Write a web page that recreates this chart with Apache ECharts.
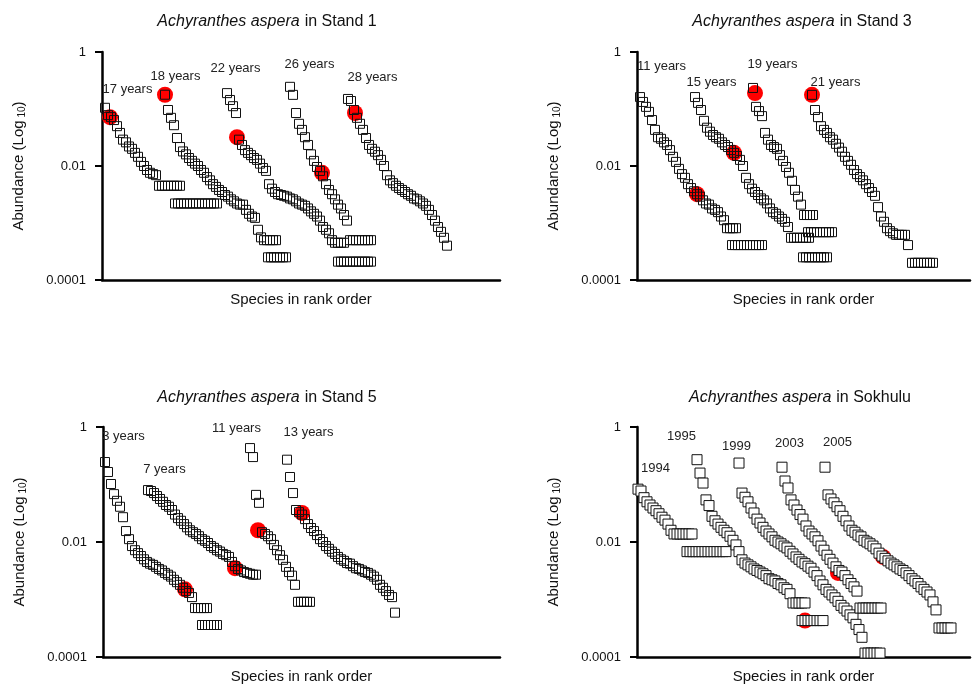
<!DOCTYPE html>
<html>
<head>
<meta charset="utf-8">
<title>Achyranthes aspera rank abundance</title>
<script src="https://cdn.jsdelivr.net/npm/echarts@6/dist/echarts.min.js"></script>
<style>
  html, body { margin: 0; padding: 0; background: #fff; }
  #chart { width: 974px; height: 687px; }
</style>
</head>
<body>
<div id="chart"></div>
<script>
// abundance (proportion) of each species in rank order
// Stand 1
const s1_17y = [0.105, 0.078, 0.072, 0.064, 0.050, 0.038, 0.029, 0.026, 0.022, 0.020, 0.017, 0.0145, 0.0118, 0.010, 0.0085, 0.0076, 0.0072, 0.0069, 0.0045, 0.0045, 0.0045, 0.0045, 0.0045, 0.0045, 0.0045, 0.0045];
const s1_17y_tail = [0.0022, 0.0022, 0.0022, 0.0022, 0.0022, 0.0022, 0.0022, 0.0022, 0.0022, 0.0022, 0.0022, 0.0022, 0.0022, 0.0022, 0.0022];
const s1_18y = [0.178, 0.096, 0.070, 0.052, 0.031, 0.0215, 0.018, 0.016, 0.0138, 0.0123, 0.011, 0.010, 0.0085, 0.0076, 0.0064, 0.0056, 0.0048, 0.0043, 0.0038, 0.0035, 0.0031, 0.0029, 0.0026, 0.0024, 0.0022, 0.0021, 0.0021, 0.0017, 0.00145, 0.0013, 0.00123, 0.00076, 0.00056, 0.0005, 0.0005, 0.0005, 0.0005, 0.0005];
const s1_18y_tail = [0.00025, 0.00025, 0.00025, 0.00025, 0.00025, 0.00025, 0.00025];
const s1_22y = [0.19, 0.144, 0.112, 0.085, 0.029, 0.0234, 0.019, 0.017, 0.0155, 0.0138, 0.0128, 0.011, 0.0092, 0.0082, 0.0048, 0.004, 0.0035, 0.0032, 0.0031, 0.003, 0.0029, 0.0027, 0.0026, 0.0024, 0.0022, 0.0021, 0.002, 0.0018, 0.0016, 0.00145, 0.0013, 0.0011, 0.00085, 0.00076, 0.00066, 0.0005, 0.00045, 0.00045, 0.00045, 0.00045];
const s1_26y = [0.245, 0.177, 0.085, 0.055, 0.043, 0.032, 0.0234, 0.016, 0.0123, 0.0096, 0.0082, 0.0066, 0.0048, 0.0038, 0.0032, 0.0026, 0.0021, 0.0018, 0.00138, 0.0011, 0.0005, 0.0005, 0.0005, 0.0005, 0.0005, 0.0005, 0.0005, 0.0005];
const s1_26y_tail = [0.00021, 0.00021, 0.00021, 0.00021, 0.00021, 0.00021, 0.00021, 0.00021, 0.00021, 0.00021, 0.00021, 0.00021];
const s1_28y = [0.15, 0.138, 0.096, 0.07, 0.055, 0.043, 0.031, 0.0234, 0.02, 0.0178, 0.0155, 0.0128, 0.01, 0.0069, 0.0056, 0.005, 0.0045, 0.0041, 0.0038, 0.0035, 0.0032, 0.003, 0.0027, 0.0026, 0.0024, 0.0022, 0.002, 0.0017, 0.00138, 0.0011, 0.00085, 0.0007, 0.00055, 0.0004];
const s1RedRank = [8, 63, 135, 220, 253];
const s1RedValue = [0.072, 0.178, 0.032, 0.0076, 0.085];

// Stand 3
const s3_11y = [0.162, 0.133, 0.109, 0.089, 0.064, 0.043, 0.032, 0.03, 0.026, 0.0234, 0.019, 0.0145, 0.0118, 0.0089, 0.0072, 0.0062, 0.0048, 0.0041, 0.0036, 0.0032, 0.0029, 0.0025, 0.0022, 0.0021, 0.0018, 0.0017, 0.00155, 0.0013, 0.00112, 0.00081, 0.00081, 0.00081, 0.00081];
const s3_11y_tail = [0.00041, 0.00041, 0.00041, 0.00041, 0.00041, 0.00041, 0.00041, 0.00041, 0.00041, 0.00041, 0.00041];
const s3_15y = [0.162, 0.128, 0.096, 0.062, 0.047, 0.04, 0.035, 0.032, 0.03, 0.026, 0.0234, 0.0215, 0.019, 0.017, 0.015, 0.0128, 0.01, 0.0062, 0.0048, 0.004, 0.0035, 0.0031, 0.0027, 0.0025, 0.0022, 0.0018, 0.00155, 0.00145, 0.0013, 0.00118, 0.00105, 0.00085, 0.00055, 0.00055, 0.00055, 0.00055, 0.00055, 0.00055, 0.00055];
const s3_19y = [0.234, 0.109, 0.092, 0.075, 0.038, 0.029, 0.0234, 0.0215, 0.02, 0.0155, 0.0123, 0.0096, 0.0076, 0.0055, 0.0038, 0.0029, 0.0021, 0.00138, 0.00138, 0.00138, 0.00138];
const s3_19y_tail = [0.00069, 0.00069, 0.00069, 0.00069, 0.00069, 0.00069, 0.00069, 0.00069, 0.00069];
const s3_19y_tail2 = [0.00025, 0.00025, 0.00025, 0.00025, 0.00025, 0.00025, 0.00025, 0.00025, 0.00025];
const s3_21y = [0.177, 0.096, 0.072, 0.05, 0.043, 0.038, 0.032, 0.029, 0.0245, 0.021, 0.0178, 0.0145, 0.0123, 0.0105, 0.0085, 0.0072, 0.0064, 0.0056, 0.0048, 0.0041, 0.0035, 0.003, 0.0019, 0.0013, 0.00105, 0.00081, 0.00072, 0.00066, 0.00062, 0.00062, 0.00062, 0.00062, 0.00041];
const s3_21y_tail = [0.0002, 0.0002, 0.0002, 0.0002, 0.0002, 0.0002, 0.0002, 0.0002];
const s3RedRank = [60, 97, 118, 175];
const s3RedValue = [0.0032, 0.017, 0.19, 0.177];

// Stand 5
const s5_3y = [0.246, 0.165, 0.102, 0.068, 0.052, 0.041, 0.027, 0.0155, 0.0112, 0.0085, 0.0072, 0.0064, 0.0057, 0.005, 0.0045, 0.0042, 0.004, 0.0037, 0.0034, 0.0032, 0.0029, 0.0027, 0.0025, 0.0022, 0.002, 0.0018, 0.0016, 0.0014, 0.0013, 0.0011, 0.00071, 0.00071, 0.00071, 0.00071, 0.00071];
const s5_3y_tail = [0.00036, 0.00036, 0.00036, 0.00036, 0.00036, 0.00036];
const s5_7y = [0.08, 0.077, 0.071, 0.063, 0.056, 0.05, 0.044, 0.041, 0.036, 0.03, 0.026, 0.0234, 0.0205, 0.018, 0.016, 0.0148, 0.0138, 0.0126, 0.0112, 0.0105, 0.0096, 0.0085, 0.0079, 0.0072, 0.0068, 0.0062, 0.0059, 0.0055, 0.0045, 0.0038, 0.0034, 0.0032, 0.003, 0.0029, 0.0028, 0.0027, 0.0027];
const s5_11y = [0.43, 0.30, 0.066, 0.048, 0.0148, 0.0138, 0.0126, 0.0112, 0.0089, 0.0072, 0.0059, 0.0049, 0.0037, 0.003, 0.0026, 0.0018, 0.00091, 0.00091, 0.00091, 0.00091, 0.00091];
const s5_13y = [0.27, 0.135, 0.071, 0.036, 0.033, 0.03, 0.025, 0.0205, 0.0175, 0.0155, 0.0132, 0.0112, 0.01, 0.0085, 0.0076, 0.0068, 0.0062, 0.0055, 0.005, 0.0047, 0.0043, 0.0042, 0.0038, 0.0035, 0.0034, 0.0032, 0.003, 0.0029, 0.0027, 0.0025, 0.0022, 0.0018, 0.0016, 0.0014, 0.0012, 0.0011, 0.00059];
const s5RedRank = [82, 132, 155, 199];
const s5RedValue = [0.0015, 0.0035, 0.016, 0.032];

// Sokhulu
const sk_1994 = [0.083, 0.077, 0.059, 0.05, 0.044, 0.039, 0.035, 0.031, 0.027, 0.024, 0.0205, 0.016, 0.0138, 0.0138, 0.0138, 0.0138, 0.0138, 0.0138, 0.0138];
const sk_1994_tail = [0.0068, 0.0068, 0.0068, 0.0068, 0.0068, 0.0068, 0.0068, 0.0068, 0.0068, 0.0068, 0.0068, 0.0068, 0.0068, 0.0068];
const sk_1995 = [0.27, 0.158, 0.106, 0.054, 0.043, 0.028, 0.0234, 0.0205, 0.018, 0.016, 0.0145, 0.0126, 0.0107, 0.0089, 0.0068, 0.0049, 0.0043, 0.004, 0.0037, 0.0034, 0.0032, 0.003, 0.0028, 0.0026, 0.0023, 0.0022, 0.0021, 0.0019, 0.0018, 0.0016, 0.0015, 0.00126, 0.00087, 0.00087, 0.00087, 0.00087, 0.00087];
const sk_1995_tail = [0.00043, 0.00043, 0.00043, 0.00043, 0.00043, 0.00043, 0.00043, 0.00043];
const sk_1999 = [0.236, 0.071, 0.06, 0.05, 0.039, 0.032, 0.025, 0.0214, 0.018, 0.0155, 0.0138, 0.0123, 0.0107, 0.01, 0.0093, 0.0085, 0.0079, 0.0069, 0.0062, 0.0055, 0.005, 0.0045, 0.0042, 0.0038, 0.0035, 0.003, 0.0026, 0.0021, 0.0018, 0.0015, 0.00135, 0.0012, 0.00107, 0.00093, 0.00079, 0.00071, 0.00063, 0.00054, 0.00048, 0.00037, 0.0003, 0.00022, 0.000117, 0.000117, 0.000117, 0.000117, 0.000117, 0.000117];
const sk_2003 = [0.2, 0.115, 0.087, 0.054, 0.044, 0.036, 0.03, 0.025, 0.019, 0.0155, 0.0138, 0.0123, 0.0105, 0.0085, 0.0072, 0.0059, 0.005, 0.0043, 0.0037, 0.0032, 0.003, 0.0026, 0.0022, 0.0019, 0.00166, 0.0014, 0.00071, 0.00071, 0.00071, 0.00071, 0.00071, 0.00071, 0.00071, 0.00071];
const sk_2005 = [0.2, 0.066, 0.056, 0.048, 0.041, 0.035, 0.028, 0.0234, 0.019, 0.016, 0.0148, 0.0132, 0.0123, 0.0107, 0.01, 0.0093, 0.0085, 0.0076, 0.0064, 0.0057, 0.0052, 0.0047, 0.0043, 0.004, 0.0037, 0.0034, 0.0032, 0.0029, 0.0026, 0.0023, 0.0021, 0.0019, 0.00166, 0.0015, 0.00135, 0.0012, 0.00091, 0.00066, 0.00032, 0.00032, 0.00032, 0.00032, 0.00032];
const skRedRank = [168, 201, 246];
const skRedValue = [0.00043, 0.0029, 0.0055];

const yTicks = ['1', '0.01', '0.0001'];

// layout: where each run starts along the rank axis, spacing, label offset
const panels = [
    {
        place: 'Stand 1', titleX: 262, titleY: 8, fill: 'rgba(255,255,255,0)', size: 9,
        grid: {left: 102, top: 52, width: 398, height: 228},
        runs: [
            {values: s1_17y, start: 3, step: 3, label: '17 years', offset: [23, -18]},
            {values: s1_17y_tail, start: 73, step: 3},
            {values: s1_18y, start: 63, step: 3, label: '18 years', offset: [11, -18]},
            {values: s1_18y_tail, start: 166, step: 3},
            {values: s1_22y, start: 125, step: 3, label: '22 years', offset: [9, -24]},
            {values: s1_26y, start: 188, step: 3, label: '26 years', offset: [20, -22]},
            {values: s1_26y_tail, start: 236, step: 3},
            {values: s1_28y, start: 246, step: 3, label: '28 years', offset: [25, -21]}
        ],
        redRank: s1RedRank, redValue: s1RedValue
    },
    {
        place: 'Stand 3', titleX: 797, titleY: 8, fill: 'rgba(255,255,255,0)', size: 9,
        grid: {left: 637, top: 52, width: 333, height: 228},
        runs: [
            {values: s3_11y, start: 3, step: 3, label: '11 years', offset: [22, -30]},
            {values: s3_11y_tail, start: 95, step: 3},
            {values: s3_15y, start: 58, step: 3, label: '15 years', offset: [17, -14]},
            {values: s3_19y, start: 116, step: 3, label: '19 years', offset: [20, -23]},
            {values: s3_19y_tail, start: 171, step: 3},
            {values: s3_19y_tail2, start: 166, step: 3},
            {values: s3_21y, start: 175, step: 3, label: '21 years', offset: [24, -12]},
            {values: s3_21y_tail, start: 275, step: 3}
        ],
        redRank: s3RedRank, redValue: s3RedValue
    },
    {
        place: 'Stand 5', titleX: 262, titleY: 384, fill: 'rgba(255,255,255,0)', size: 9,
        grid: {left: 103, top: 427, width: 397, height: 230},
        runs: [
            {values: s5_3y, start: 2, step: 3, label: '3 years', offset: [19, -25]},
            {values: s5_3y_tail, start: 99, step: 3},
            {values: s5_7y, start: 45, step: 3, label: '7 years', offset: [17, -20]},
            {values: s5_11y, start: 147, step: 3, label: '11 years', offset: [-13, -19]},
            {values: s5_13y, start: 184, step: 3, label: '13 years', offset: [22, -27]}
        ],
        redRank: s5RedRank, redValue: s5RedValue
    },
    {
        place: 'Sokhulu', titleX: 795, titleY: 384, fill: '#fff', size: 10,
        grid: {left: 637, top: 427, width: 333, height: 230},
        runs: [
            {values: sk_1994, start: 1, step: 3, label: '1994', offset: [18, -20]},
            {values: sk_1994_tail, start: 50, step: 3},
            {values: sk_1995, start: 60, step: 3, label: '1995', offset: [-15, -23]},
            {values: sk_1995_tail, start: 165, step: 3},
            {values: sk_1999, start: 102, step: 3, label: '1999', offset: [-2, -16]},
            {values: sk_2003, start: 145, step: 3, label: '2003', offset: [8, -23]},
            {values: sk_2005, start: 188, step: 3, label: '2005', offset: [13, -24]}
        ],
        redRank: skRedRank, redValue: skRedValue
    }
];

const font = 'Liberation Sans, Arial, sans-serif';

function tickLabel(v) {
    const e = Math.round(Math.log10(v));
    return yTicks[-e / 2] || '';
}

const chart = echarts.init(document.getElementById('chart'));

const option = {
    animation: false,
    backgroundColor: '#fff',
    title: panels.map(p => ({
        text: '{i|Achyranthes aspera} {n|in ' + p.place + '}',
        left: p.titleX,
        top: p.titleY,
        textAlign: 'center',
        textStyle: {
            fontWeight: 'normal',
            rich: {
                i: {fontStyle: 'italic', fontWeight: 'normal', fontSize: 16, fontFamily: font, color: '#111'},
                n: {fontWeight: 'normal', fontSize: 16, fontFamily: font, color: '#111'}
            }
        }
    })),
    grid: panels.map(p => Object.assign({containLabel: false}, p.grid)),
    xAxis: panels.map((p, k) => ({
        type: 'value',
        gridIndex: k,
        min: 0,
        max: p.grid.width,
        name: 'Species in rank order',
        nameLocation: 'middle',
        nameGap: 12,
        nameTextStyle: {fontSize: 15, fontFamily: font, color: '#111', verticalAlign: 'top'},
        axisLine: {show: true, onZero: false, lineStyle: {color: '#000', width: 2.5}},
        axisTick: {show: false},
        axisLabel: {show: false},
        splitLine: {show: false}
    })),
    yAxis: panels.map((p, k) => ({
        type: 'log',
        logBase: 10,
        gridIndex: k,
        min: 0.0001,
        max: 1,
        interval: 2,
        name: '{a|Abundance (Log}{s| 10}{a|)}',
        nameLocation: 'middle',
        nameGap: 75,
        nameRotate: 90,
        nameTextStyle: {
            rich: {
                a: {fontSize: 15, fontFamily: font, color: '#111', lineHeight: 16, verticalAlign: 'top'},
                s: {fontSize: 10, fontFamily: font, color: '#111', lineHeight: 11, verticalAlign: 'bottom', padding: [8, 0, 0, 0]}
            }
        },
        axisLine: {show: true, lineStyle: {color: '#000', width: 2.5}},
        axisTick: {show: true, length: 7, lineStyle: {color: '#000', width: 2}},
        axisLabel: {fontSize: 13, fontFamily: font, color: '#111', margin: 16, formatter: tickLabel},
        splitLine: {show: false}
    })),
    series: []
};

panels.forEach((p, k) => {
    const half = p.size / 2;
    const squares = [];
    p.runs.forEach(run => {
        run.values.forEach((v, i) => {
            const item = {value: [run.start + i * run.step, v]};
            if (i === 0 && run.label) {
                item.label = {
                    show: true,
                    formatter: run.label,
                    position: [half + run.offset[0], half + run.offset[1]],
                    align: 'center',
                    verticalAlign: 'middle',
                    fontSize: 13,
                    fontFamily: font,
                    color: '#222'
                };
            }
            squares.push(item);
        });
    });
    option.series.push({
        type: 'scatter',
        name: 'target ' + p.place,
        xAxisIndex: k,
        yAxisIndex: k,
        z: 2,
        symbol: 'circle',
        symbolSize: 16,
        itemStyle: {color: '#ff0000', opacity: 1},
        silent: true,
        data: p.redRank.map((r, i) => [r, p.redValue[i]])
    });
    option.series.push({
        type: 'scatter',
        name: 'species ' + p.place,
        xAxisIndex: k,
        yAxisIndex: k,
        z: 3,
        symbol: 'rect',
        symbolSize: p.size,
        itemStyle: {color: p.fill, borderColor: '#111', borderWidth: 1, opacity: 1},
        silent: true,
        labelLayout: {hideOverlap: false},
        data: squares
    });
});

chart.setOption(option);
</script>
</body>
</html>
